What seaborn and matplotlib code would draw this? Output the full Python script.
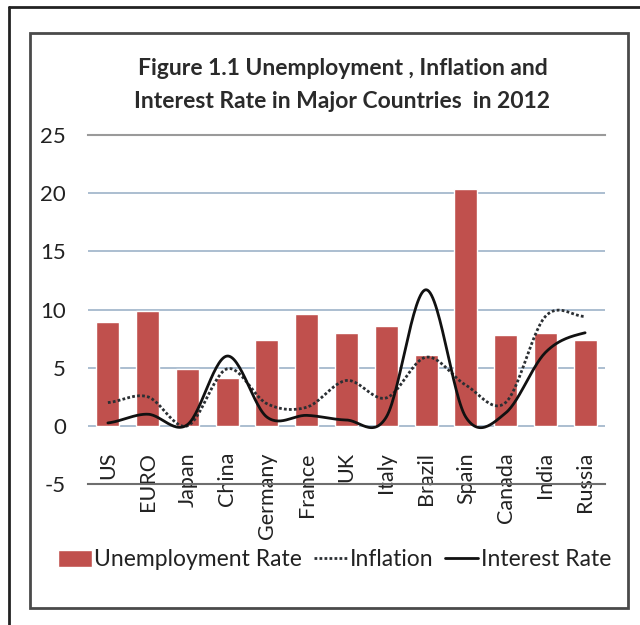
import numpy as np
import pandas as pd
import seaborn as sns
import matplotlib.pyplot as plt
from matplotlib.lines import Line2D
from matplotlib.patches import Rectangle

countries = ["US", "EURO", "Japan", "China", "Germany", "France", "UK",
             "Italy", "Brazil", "Spain", "Canada", "India", "Russia"]
unemployment = [8.9, 9.9, 4.9, 4.1, 7.4, 9.6, 8.0, 8.6, 6.1, 20.4, 7.8, 8.0, 7.4]
inflation = [2.0, 2.5, 0.0, 4.9, 1.9, 1.6, 3.9, 2.4, 5.9, 3.5, 2.0, 9.4, 9.4]
interest = [0.25, 1.0, 0.1, 6.0, 0.75, 0.9, 0.5, 0.75, 11.7, 0.75, 1.1, 6.3, 8.0]

title = "Figure 1.1 Unemployment , Inflation and\nInterest Rate in Major Countries  in 2012"


def smooth(vals, n=30):
    # excel-style smoothed line (catmull-rom bezier between the points)
    p = np.array(vals, dtype=float)
    pp = np.concatenate([[p[0]], p, [p[-1]]])
    xs, ys = [], []
    t = np.linspace(0, 1, n)
    for i in range(len(p) - 1):
        p0, p3 = pp[i + 1], pp[i + 2]
        c1 = p0 + (pp[i + 2] - pp[i]) / 6
        c2 = p3 - (pp[i + 3] - pp[i + 1]) / 6
        y = (1-t)**3*p0 + 3*(1-t)**2*t*c1 + 3*(1-t)*t**2*c2 + t**3*p3
        xs.extend(i + t)
        ys.extend(y)
    return np.array(xs), np.array(ys)


sns.set_theme(style="white")
plt.rcParams['font.family'] = ['Lato', 'DejaVu Sans']
plt.rcParams['axes.unicode_minus'] = False

df = pd.DataFrame({"country": countries, "unemp": unemployment})

fig = plt.figure(figsize=(6.4, 6.25), dpi=100)
ax = fig.add_axes([88/640, 1-484/625, 517/640, 349/625])

sns.barplot(data=df, x="country", y="unemp", color="#c0504d", saturation=1,
            width=0.58, ax=ax, label="Unemployment Rate", zorder=2)

x1, y1 = smooth(inflation)
sns.lineplot(x=x1, y=y1, ax=ax, color="#2b2f33", lw=2, linestyle=(0, (1, 0.8)),
             estimator=None, sort=False, label="Inflation", zorder=3)
x2, y2 = smooth(interest)
sns.lineplot(x=x2, y=y2, ax=ax, color="#111111", lw=2,
             estimator=None, sort=False, label="Interest Rate", zorder=4)

ax.set_ylim(-5, 25)
ax.set_xlim(-0.5, len(countries) - 0.5)
ax.set_yticks(range(-5, 26, 5))
ax.set_xlabel("")
ax.set_ylabel("")
ax.set_axisbelow(True)
ax.yaxis.grid(True, color="#9db3c8", lw=1.2)
for s in ["left", "right"]:
    ax.spines[s].set_visible(False)
ax.spines["top"].set_color("#9a9a9a")
ax.spines["top"].set_linewidth(1.5)
ax.spines["bottom"].set_color("#6e6e6e")
ax.spines["bottom"].set_linewidth(1.5)

ax.set_xticks(range(len(countries)))
ax.set_xticklabels(countries, rotation=90, fontsize=15.5, color="#222222")
ax.tick_params(axis="x", length=0, pad=-23)
ax.tick_params(axis="y", length=0, pad=16, labelsize=16, labelcolor="#222222")

ax.get_legend().remove()
h, l = ax.get_legend_handles_labels()
order = [l.index("Unemployment Rate"), l.index("Inflation"), l.index("Interest Rate")]
fig.legend([h[i] for i in order], [l[i] for i in order], loc="center",
           bbox_to_anchor=(0.523, 1-560/625), ncol=3,
           frameon=False, fontsize=16.5, handlelength=1.45, handleheight=0.75,
           handletextpad=0.12, columnspacing=0.5, labelcolor="#222222")

fig.text(0.535, 1-85/625, title, ha="center", va="center", fontsize=16.5,
         fontweight="bold", color="#2a2a2a", linespacing=1.65)

fig.add_artist(Rectangle((30/640, 1-608/625), 598/640, 575/625,
                         transform=fig.transFigure, fill=False,
                         edgecolor="#4a4a4a", lw=2))
fig.add_artist(Line2D([9/640, 1], [1-7/625, 1-7/625], transform=fig.transFigure,
                      color="#222222", lw=2))
fig.add_artist(Line2D([9/640, 9/640], [0, 1-7/625], transform=fig.transFigure,
                      color="#222222", lw=2))

fig.savefig("out.png", dpi=100)
